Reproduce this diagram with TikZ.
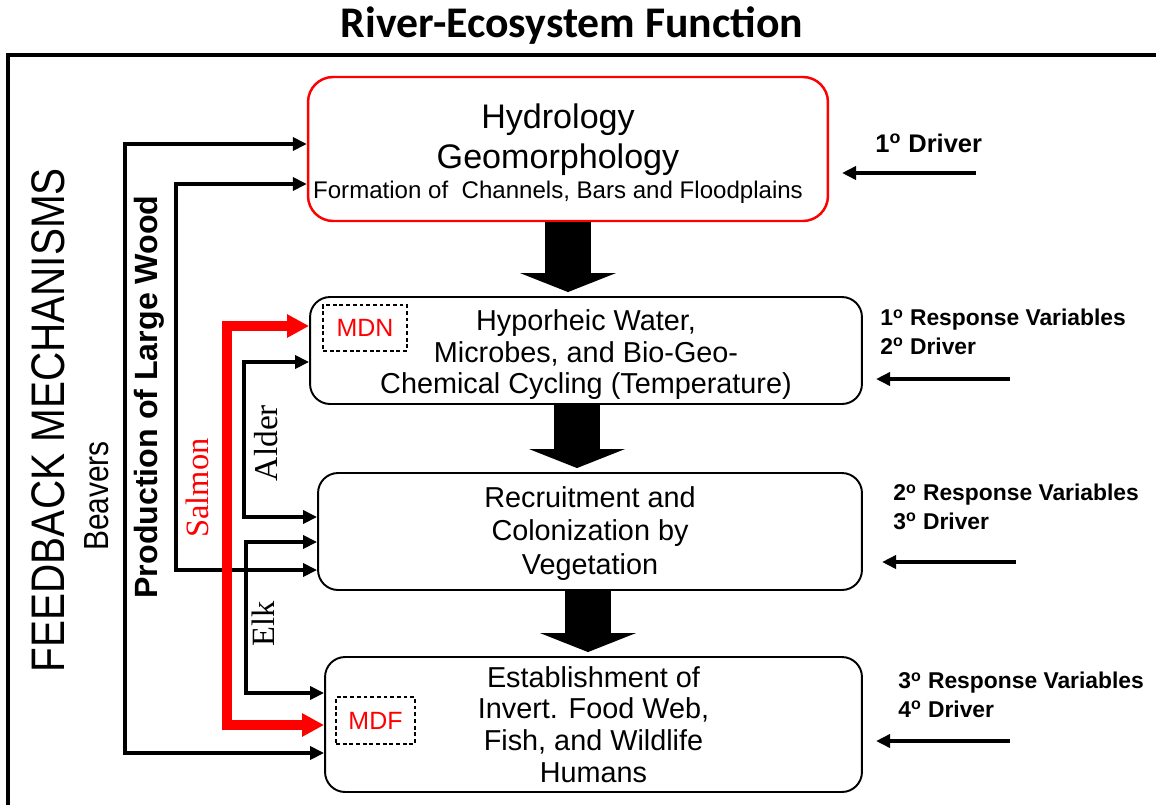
\documentclass[tikz,border=0pt]{standalone}
\usepackage{fontspec}
\setmainfont{Liberation Sans}
\newfontfamily\narrowsans[FakeStretch=0.86]{Liberation Sans}
\newfontfamily\timesfont{Liberation Serif}
\newfontfamily\titlefont{Carlito}
\usetikzlibrary{arrows.meta}

\begin{document}
\begin{tikzpicture}
[x=0.02cm,y=-0.02cm,
>={Triangle[length=0.28cm,width=0.26cm]},
stagebox/.style={draw,rounded corners=0.4cm,line width=1.1pt,inner sep=0pt,align=center,font=\fontsize{16.4}{18.1}\selectfont},
tagbox/.style={draw,dash pattern=on 2.2pt off 1.6pt,line width=0.6pt,inner sep=0pt,text=red,font=\fontsize{14.2}{17}\selectfont},
feed/.style={line width=2.1pt},
salmonline/.style={>={Triangle[length=0.44cm,width=0.44cm]},<->,red,line width=5.5pt},
blockarrow/.style={line width=0.92cm,shorten >=0.08cm,-{Triangle[line width=0pt,length=0.38cm,width=1.92cm]}},
sidelabel/.style={inner sep=0pt,rotate=90},
drvlabel/.style={inner sep=0pt,anchor=west,align=left,font=\bfseries\fontsize{13}{16.4}\selectfont}]
\useasboundingbox (0,0) rectangle (1156,805);

% frame and title
\draw[line width=1.8pt] (8,805) -- (8,55) -- (1156,55);
\node[font=\titlefont\bfseries\fontsize{24.9}{28}\selectfont] (title) at (572,26) {River-Ecosystem Function};

% stages
\node[stagebox,draw=red,line width=1.4pt,rounded corners=0.5cm,minimum width=10.4cm,minimum height=2.88cm] (hydro) at (568,149) {};
\node[align=center,inner sep=0pt,font=\fontsize{19.4}{22.7}\selectfont] (hydrotext) at (558,154)
 {Hydrology\\Geomorphology\\[-5.5pt]{\fontsize{13.7}{16}\selectfont Formation of\ \ Channels, Bars and Floodplains}};
\node[stagebox,minimum width=11.04cm,minimum height=2.14cm] (hypo) at (586,350.5)
 {\rule{0pt}{16.5pt}Hyporheic Water,\\Microbes, and Bio-Geo-\\Chemical Cycling (Temperature)};
\node[stagebox,minimum width=10.88cm,minimum height=2.34cm] (recr) at (590,531.5)
 {\rule{0pt}{14pt}Recruitment and\\[0.9pt]Colonization by\\[0.9pt]Vegetation};
\node[stagebox,minimum width=10.74cm,minimum height=2.7cm] (fauna) at (593.5,724.5)
 {Establishment of\\Invert. Food Web,\\Fish, and Wildlife\\Humans};
\node[tagbox,minimum width=1.68cm,minimum height=0.92cm] (mdn) at (365,328) {MDN};
\node[tagbox,minimum width=1.58cm,minimum height=0.94cm] (mdf) at (375.5,720.5) {MDF};

% big arrows between stages
\coordinate (a1) at (568,0);
\coordinate (a2) at (577,0);
\coordinate (a3) at (588,0);
\draw[blockarrow] (a1 |- hydro.south) -- (a1 |- hypo.north);
\draw[blockarrow] (a2 |- hypo.south) -- (a2 |- recr.north);
\draw[blockarrow] (a3 |- recr.south) -- (a3 |- fauna.north);

% drivers
\node[drvlabel,font=\bfseries\fontsize{14.5}{17}\selectfont] (drv1) at (875,143) {1\textsuperscript{o} Driver};
\node[drvlabel] (drv2) at (880,332) {1\textsuperscript{o} Response Variables\\2\textsuperscript{o} Driver};
\node[drvlabel] (drv3) at (893,507) {2\textsuperscript{o} Response Variables\\3\textsuperscript{o} Driver};
\node[drvlabel] (drv4) at (898,695) {3\textsuperscript{o} Response Variables\\4\textsuperscript{o} Driver};
\coordinate (d1s) at (976,173);  \coordinate (d1e) at (842,173);
\coordinate (d2s) at (1010,379); \coordinate (d2e) at (876,379);
\coordinate (d3s) at (1016,562); \coordinate (d3e) at (882,562);
\coordinate (d4s) at (1010,741); \coordinate (d4e) at (876,741);
\foreach \s/\e in {d1s/d1e,d2s/d2e,d3s/d3e,d4s/d4e}
\draw[feed,->] (\s) -- (\e);

% feedback mechanisms
\node[sidelabel,font=\narrowsans\fontsize{26.8}{30}\selectfont] (fbm) at (48,420) {FEEDBACK MECHANISMS};
\node[sidelabel,font=\narrowsans\fontsize{19.8}{23}\selectfont] (beav) at (97,496) {Beavers};
\node[sidelabel,font=\bfseries\fontsize{18.3}{21}\selectfont] (wood) at (149,397) {Production of Large Wood};
\node[sidelabel,text=red,font=\timesfont\fontsize{18.5}{21}\selectfont] (salm) at (197,488) {Salmon};
\node[sidelabel,font=\timesfont\fontsize{19}{21}\selectfont] (alder) at (266,443) {Alder};
\node[sidelabel,font=\timesfont\fontsize{18.5}{21}\selectfont] (elk) at (263,624) {Elk};

\coordinate (bvtop) at (125,144);   \coordinate (bvbot) at (125,753);
\coordinate (wdtop) at (176,184);   \coordinate (wdbot) at (176,570);
\coordinate (aldtop) at (244,362);  \coordinate (aldbot) at (244,517);
\coordinate (elktop) at (246,542);  \coordinate (elkbot) at (246,693);
\coordinate (smtop) at (227,326);   \coordinate (smbot) at (227,725);
\foreach \t/\b/\from/\to in {bvtop/bvbot/hydro/fauna,wdtop/wdbot/hydro/recr,aldtop/aldbot/hypo/recr,elktop/elkbot/recr/fauna}
\draw[feed,<->] (\from.west |- \t) -- (\t) -- (\b) -- (\to.west |- \b);
\draw[salmonline] (hypo.west |- smtop) -- (smtop) -- (smbot) -- (fauna.west |- smbot);
\end{tikzpicture}
\end{document}
